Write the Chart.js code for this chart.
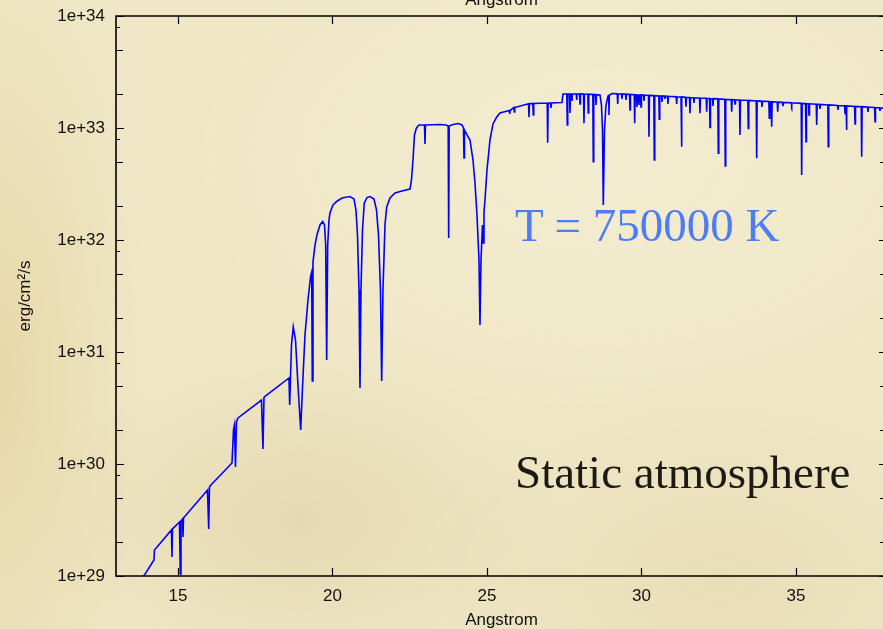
<!DOCTYPE html>
<html>
<head>
<meta charset="utf-8">
<title>Static atmosphere spectrum</title>
<script src="https://cdn.jsdelivr.net/npm/chart.js@4.4.0/dist/chart.umd.min.js"></script>
<style>
    html, body { margin: 0; padding: 0; width: 883px; height: 629px; overflow: hidden; }
    body {
        background-color: #efe7c6;
        background-image:
            radial-gradient(ellipse 150px 460px at 0px 380px, rgba(222,198,132,0.45), rgba(222,198,132,0) 100%),
            radial-gradient(ellipse 260px 170px at 300px 520px, rgba(214,190,140,0.35), rgba(214,190,140,0) 100%),
            radial-gradient(ellipse 320px 200px at 720px 580px, rgba(220,200,150,0.30), rgba(220,200,150,0) 100%),
            radial-gradient(ellipse 420px 260px at 600px 160px, rgba(246,241,218,0.55), rgba(246,241,218,0) 100%);
    }
    #wrap { position: absolute; left: 0; top: 0; width: 890px; height: 629px; }
    .note {
        position: absolute;
        font-family: "Liberation Serif", "Times New Roman", serif;
        font-size: 47px;
        line-height: 47px;
        white-space: nowrap;
    }
</style>
</head>
<body>
<div id="wrap">
    <canvas id="spectrum" width="890" height="629"></canvas>
</div>
<div class="note" style="left:515px; top:202px; color:#4d7cf6;">T = 750000 K</div>
<div class="note" style="left:515px; top:449px; color:#1c1a14;">Static atmosphere</div>

<script>
// axis ticks
const xTicks = [15, 20, 25, 30, 35];
const yTicks = [1e29, 1e30, 1e31, 1e32, 1e33, 1e34];
const yMinorSteps = [2, 5, 8];

// wavelength (Angstrom) and log10 of the flux (erg/cm2/s)
// ionisation edges and the broad lines
const edgeWave = [
    13.770, 14.223, 14.239, 14.790, 14.806, 14.822, 15.049, 15.074, 15.097,
    15.146, 15.162, 15.178, 15.955, 15.994, 16.019, 16.068, 16.748, 16.796,
    16.828, 16.861, 16.893, 16.942, 17.702, 17.751, 17.783, 17.816, 18.592,
    18.615, 18.641, 18.673, 18.731, 18.803, 18.883, 18.971, 19.029, 19.110,
    19.207, 19.294, 19.327, 19.346, 19.369, 19.434, 19.498, 19.595, 19.683,
    19.741, 19.780, 19.812, 19.845, 19.887, 19.919, 20.016, 20.136, 20.307,
    20.566, 20.696, 20.760, 20.809, 20.858, 20.890, 20.922, 20.971, 21.029,
    21.116, 21.214, 21.343, 21.424, 21.489, 21.553, 21.592, 21.634, 21.699,
    21.754, 21.861, 22.023, 22.249, 22.508, 22.556, 22.605, 22.653, 22.718,
    22.799, 22.977, 22.993, 23.009, 23.479, 23.673, 23.744, 23.760, 23.776,
    23.900, 24.061, 24.191, 24.239, 24.256, 24.272, 24.353, 24.450, 24.547,
    24.612, 24.676, 24.741, 24.773, 24.806, 24.854, 24.880, 24.903, 24.935,
    25.000, 25.097, 25.194, 25.314, 25.421
];
const edgeLogF = [
    28.946, 29.143, 29.232, 29.411, 29.170, 29.420, 29.482, 29.018, 29.491,
    29.509, 29.348, 29.518, 29.768, 29.420, 29.795, 29.813, 30.009, 30.304,
    30.348, 29.973, 30.375, 30.411, 30.571, 30.134, 30.594, 30.603, 30.768,
    30.527, 30.768, 31.063, 31.223, 31.107, 30.705, 30.304, 30.679, 31.152,
    31.464, 31.679, 31.714, 30.741, 31.804, 31.955, 32.045, 32.134, 32.165,
    32.134, 31.955, 30.929, 31.955, 32.179, 32.241, 32.313, 32.344, 32.375,
    32.388, 32.366, 32.268, 32.045, 31.554, 30.679, 31.554, 32.089, 32.330,
    32.379, 32.388, 32.366, 32.268, 32.045, 31.554, 30.741, 31.554, 32.134,
    32.295, 32.375, 32.420, 32.438, 32.455, 32.536, 32.714, 32.938, 33.000,
    33.027, 33.027, 32.857, 33.027, 33.031, 33.027, 33.018, 32.018, 33.018,
    33.031, 33.040, 33.027, 33.000, 32.732, 32.982, 32.938, 32.893, 32.714,
    32.509, 32.223, 31.821, 31.241, 31.821, 32.134, 31.973, 32.250, 32.357,
    32.625, 32.893, 33.036, 33.098, 33.134
];

// flat part with the narrow absorption lines
const lineWave = [
    25.720, 25.735, 25.750,  25.869, 25.884, 25.899,  26.344, 26.359, 26.374,
    26.483, 26.498, 26.513,  26.949, 26.964, 26.979,  27.056, 27.071, 27.086,
    27.427, 27.459,
    27.583, 27.598, 27.613,  27.671, 27.686, 27.701,  27.736, 27.751, 27.766,
    27.888, 27.903, 27.918,  27.995, 28.010, 28.025,  28.124, 28.139, 28.154,
    28.263, 28.278, 28.293,  28.425, 28.440, 28.455,  28.512, 28.527, 28.542,
    28.657, 28.705, 28.738, 28.764, 28.802, 28.851, 28.916,
    28.938, 28.948, 28.960,
    29.045,
    29.215, 29.230, 29.245,  29.354, 29.369, 29.384,  29.483, 29.498, 29.513,
    29.613, 29.628, 29.643,  29.765, 29.780, 29.795,  29.839, 29.854, 29.869,
    29.904, 29.919, 29.934,  29.969, 29.984, 29.999,  30.066, 30.081, 30.096,
    30.227, 30.242, 30.257,  30.399, 30.414, 30.429,  30.561, 30.576, 30.591,
    30.648, 30.663, 30.678,  30.745, 30.760, 30.775,  30.842, 30.857, 30.872,
    31.124, 31.139, 31.154,  31.279, 31.294, 31.309,  31.425, 31.440, 31.455,
    31.554, 31.569, 31.584,  31.684, 31.699, 31.714,  31.878, 31.893, 31.908,
    32.094, 32.109, 32.124,  32.202, 32.217, 32.232,  32.299, 32.314, 32.329,
    32.471, 32.486, 32.501,  32.696, 32.711, 32.726,  32.904, 32.919, 32.934,
    33.011, 33.026, 33.041,  33.172, 33.187, 33.202,  33.441, 33.456, 33.471,
    33.713, 33.728, 33.743,  33.884, 33.899, 33.914,  34.121, 34.136, 34.151,
    34.198, 34.213, 34.228,  34.393, 34.408, 34.423,  34.564, 34.579, 34.594,
    34.846, 34.861, 34.876,  35.169, 35.184, 35.199,  35.309, 35.324, 35.339,
    35.406, 35.421, 35.436,  35.655, 35.670, 35.685,  35.761, 35.776, 35.791,
    36.030, 36.045, 36.060,  36.344, 36.359, 36.374,  36.571, 36.586, 36.601,
    36.622, 36.634, 36.646,  36.895, 36.910, 36.925,  37.111, 37.126, 37.141,
    37.315, 37.330, 37.345,  37.542, 37.557, 37.572,  37.703, 37.718, 37.733,
    38.000
];
const lineLogF = [
    33.156, 33.125, 33.156,  33.183, 33.143, 33.183,  33.217, 33.096, 33.217,
    33.219, 33.116, 33.219,  33.223, 32.869, 33.223,  33.223, 33.179, 33.223,
    33.228, 33.304,
    33.304, 33.027, 33.304,  33.304, 33.134, 33.304,  33.304, 33.241, 33.304,
    33.304, 33.250, 33.304,  33.304, 33.214, 33.304,  33.303, 33.042, 33.303,
    33.302, 33.134, 33.302,  33.300, 32.699, 33.300,  33.298, 33.205, 33.298,
    33.295, 33.205, 32.982, 32.313, 32.982, 33.205, 33.286,
    33.290, 33.116, 33.292,
    33.308,
    33.306, 33.214, 33.306,  33.304, 33.259, 33.304,  33.302, 33.250, 33.302,
    33.300, 33.161, 33.300,  33.297, 33.042, 33.297,  33.295, 33.188, 33.295,
    33.295, 33.205, 33.295,  33.295, 33.188, 33.295,  33.294, 33.241, 33.294,
    33.291, 32.922, 33.291,  33.289, 32.714, 33.289,  33.286, 33.078, 33.286,
    33.286, 33.232, 33.286,  33.284, 33.259, 33.284,  33.283, 33.214, 33.283,
    33.278, 33.214, 33.278,  33.277, 32.833, 33.277,  33.274, 33.190, 33.274,
    33.272, 33.131, 33.272,  33.270, 33.223, 33.270,  33.268, 33.131, 33.268,
    33.265, 33.146, 33.265,  33.263, 33.006, 33.263,  33.262, 33.196, 33.262,
    33.260, 32.774, 33.260,  33.256, 32.661, 33.256,  33.253, 33.146, 33.253,
    33.252, 33.214, 33.252,  33.250, 32.938, 33.250,  33.246, 32.997, 33.246,
    33.242, 32.729, 33.242,  33.240, 33.188, 33.240,  33.236, 33.087, 33.236,
    33.235, 33.012, 33.235,  33.231, 33.146, 33.231,  33.229, 33.196, 33.229,
    33.225, 33.205, 33.225,  33.220, 32.580, 33.220,  33.218, 32.878, 33.218,
    33.216, 33.116, 33.216,  33.212, 33.027, 33.212,  33.211, 33.170, 33.211,
    33.206, 32.833, 33.206,  33.201, 33.161, 33.201,  33.198, 33.131, 33.198,
    33.197, 32.982, 33.197,  33.193, 33.036, 33.193,  33.190, 32.744, 33.190,
    33.187, 33.143, 33.187,  33.183, 33.056, 33.183,  33.180, 33.152, 33.180,
    33.177
];

const waves = edgeWave.concat(lineWave);
const logFlux = edgeLogF.concat(lineLogF);
const points = waves.map((w, i) => ({ x: w, y: Math.pow(10, logFlux[i]) }));

const labelFont = { family: '"Liberation Sans", Arial, sans-serif', size: 17 };
const titleFont = { family: '"Liberation Sans", Arial, sans-serif', size: 17, lineHeight: 1 };

// gnuplot style frame with inward tics (right side lies just off the picture)
const framePlugin = {
    id: 'frame',
    afterDraw(chart) {
        const { ctx, chartArea: a, scales } = chart;
        const x = scales.x, y = scales.y;
        ctx.save();
        ctx.strokeStyle = '#000';
        ctx.lineWidth = 1.6;
        ctx.beginPath();
        ctx.moveTo(a.right + 5, a.top);
        ctx.lineTo(a.left, a.top);
        ctx.lineTo(a.left, a.bottom);
        ctx.lineTo(a.right + 5, a.bottom);
        ctx.stroke();
        ctx.beginPath();
        xTicks.forEach(v => {
            const px = Math.round(x.getPixelForValue(v)) + 0.5;
            ctx.moveTo(px, a.bottom); ctx.lineTo(px, a.bottom - 8);
            ctx.moveTo(px, a.top); ctx.lineTo(px, a.top + 8);
        });
        yTicks.forEach(v => {
            const py = Math.round(y.getPixelForValue(v)) + 0.5;
            ctx.moveTo(a.left, py); ctx.lineTo(a.left + 8, py);
            ctx.moveTo(a.right, py); ctx.lineTo(a.right - 8, py);
            if (v >= 1e34) return;
            yMinorSteps.forEach(m => {
                const len = m === 8 ? 4 : 7;
                const pm = Math.round(y.getPixelForValue(v * m)) + 0.5;
                ctx.moveTo(a.left, pm); ctx.lineTo(a.left + len, pm);
                ctx.moveTo(a.right, pm); ctx.lineTo(a.right - len, pm);
            });
        });
        ctx.lineWidth = 1.2;
        ctx.stroke();
        // top axis title, mostly off the picture
        ctx.fillStyle = '#111';
        ctx.font = '17px "Liberation Sans", Arial, sans-serif';
        ctx.textAlign = 'center';
        ctx.textBaseline = 'alphabetic';
        ctx.fillText('Angstrom', (a.left + a.right) / 2, 5);
        ctx.restore();
    }
};

new Chart(document.getElementById('spectrum'), {
    type: 'line',
    data: {
        datasets: [{
            data: points,
            borderColor: '#0000ff',
            borderWidth: 1.6,
            pointRadius: 0,
            fill: false,
            tension: 0
        }]
    },
    options: {
        responsive: false,
        animation: false,
        layout: { padding: { top: 16, right: 3, left: 0, bottom: 0 } },
        plugins: {
            legend: { display: false },
            tooltip: { enabled: false }
        },
        scales: {
            x: {
                type: 'linear',
                min: 12.994,
                max: 37.945,
                afterBuildTicks: s => { s.ticks = xTicks.map(v => ({ value: v })); },
                afterFit: s => { s.height = 53; s.paddingLeft = 0; s.paddingRight = 0; },
                grid: { display: false, drawTicks: false },
                border: { display: false },
                ticks: { font: labelFont, color: '#111', padding: 10, maxRotation: 0, autoSkip: false },
                title: { display: true, text: 'Angstrom', font: titleFont, color: '#111', padding: { top: 0, bottom: 0 } }
            },
            y: {
                type: 'logarithmic',
                min: 1e29,
                max: 1e34,
                afterBuildTicks: s => { s.ticks = yTicks.map(v => ({ value: v })); },
                afterFit: s => { s.width = 116; s.paddingTop = 0; s.paddingBottom = 0; },
                grid: { display: false, drawTicks: false },
                border: { display: false },
                ticks: {
                    font: labelFont,
                    color: '#111',
                    padding: 11,
                    autoSkip: false,
                    callback: v => '1e+' + Math.round(Math.log10(v))
                },
                title: { display: true, text: 'erg/cm²/s', font: titleFont, color: '#111', padding: { top: 17, bottom: 0 } }
            }
        }
    },
    plugins: [framePlugin]
});
</script>
</body>
</html>
